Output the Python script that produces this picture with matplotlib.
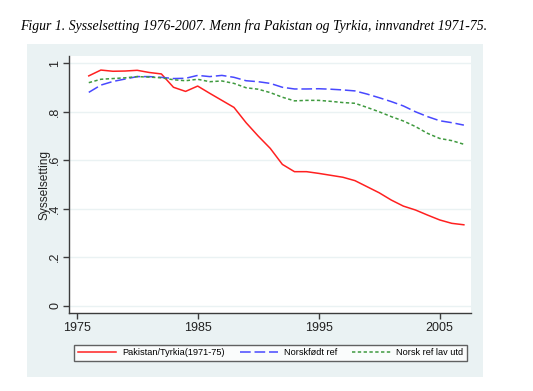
import matplotlib
matplotlib.use("Agg")
import matplotlib.pyplot as plt
from matplotlib.patches import Rectangle

years = list(range(1976, 2008))

pak_tyr = [0.948, 0.972, 0.967, 0.968, 0.971, 0.962, 0.956, 0.901, 0.884, 0.906,
           0.876, 0.847, 0.818, 0.755, 0.700, 0.649, 0.583, 0.553, 0.553, 0.546,
           0.538, 0.530, 0.516, 0.491, 0.466, 0.436, 0.411, 0.395, 0.374, 0.354,
           0.340, 0.334]
norskfodt = [0.880, 0.910, 0.925, 0.935, 0.945, 0.945, 0.942, 0.937, 0.938, 0.950,
             0.945, 0.950, 0.942, 0.928, 0.924, 0.917, 0.901, 0.894, 0.894, 0.895,
             0.893, 0.890, 0.886, 0.873, 0.858, 0.842, 0.824, 0.800, 0.780, 0.763,
             0.755, 0.745]
lav_utd = [0.920, 0.934, 0.937, 0.940, 0.945, 0.943, 0.940, 0.932, 0.928, 0.934,
           0.924, 0.927, 0.917, 0.899, 0.893, 0.879, 0.860, 0.845, 0.847, 0.847,
           0.843, 0.838, 0.835, 0.818, 0.800, 0.780, 0.762, 0.739, 0.711, 0.690,
           0.681, 0.666]

xticks = [1975, 1985, 1995, 2005]
yticks = [0, 0.2, 0.4, 0.6, 0.8, 1.0]
ylabels = ["0", ".2", ".4", ".6", ".8", "1"]

bg = "#eaf2f3"
axcol = "#3c3c3c"

fig = plt.figure(figsize=(5.33, 3.91), dpi=100)
fig.patch.set_facecolor("white")

# grey graph region behind the plot
fig.patches.append(Rectangle((0.0507, 0.0366), 0.855, 0.852, transform=fig.transFigure,
                             facecolor=bg, edgecolor="none", zorder=-5))

fig.text(0.037, 0.922, "Figur 1. Sysselsetting 1976-2007. Menn fra Pakistan og Tyrkia, innvandret 1971-75.",
         family="Liberation Serif", style="italic", fontsize=9.9, color="black")

ax = fig.add_axes([0.130, 0.1987, 0.7537, 0.6581])
ax.set_facecolor("white")

ax.plot(years, pak_tyr, color="#ff2020", lw=1.1, label="Pakistan/Tyrkia(1971-75)")
ax.plot(years, norskfodt, color="#4848ff", lw=1.1, dashes=(7, 2.5), label="Norskfødt ref")
ax.plot(years, lav_utd, color="#3f9a3f", lw=1.1, dashes=(2.2, 1.6), label="Norsk ref lav utd")

ax.set_xlim(1974.39, 2007.59)
ax.set_ylim(-0.031, 1.030)
ax.set_xticks(xticks)
ax.set_yticks(yticks)
ax.set_yticklabels(ylabels, rotation=90, va="center")
ax.grid(axis="y", color=bg, lw=1)
ax.set_axisbelow(True)

for s in ["top", "right"]:
    ax.spines[s].set_visible(False)
for s in ["left", "bottom"]:
    ax.spines[s].set_color(axcol)
    ax.spines[s].set_linewidth(1)
ax.tick_params(colors=axcol, length=4.3, width=1, labelsize=9, labelcolor="#222222")
ax.tick_params(axis="y", pad=1.5)
ax.tick_params(axis="x", pad=2)
for lab in ax.get_xticklabels() + ax.get_yticklabels():
    lab.set_family("Liberation Sans")

ax.set_ylabel("Sysselsetting", family="Liberation Sans", fontsize=8.6, color="#222222")
ax.yaxis.set_label_coords(-0.048, 0.5)

leg = fig.legend(loc="lower left", bbox_to_anchor=(0.139, 0.077, 0.737, 0.055), ncol=3,
                 mode="expand", frameon=True, fancybox=False, handlelength=4.2,
                 prop={"family": "Liberation Sans", "size": 6.6}, borderaxespad=0,
                 handletextpad=0.6, columnspacing=1.0)
leg.get_frame().set_edgecolor(axcol)
leg.get_frame().set_linewidth(1)

fig.savefig("out.png", dpi=100)
